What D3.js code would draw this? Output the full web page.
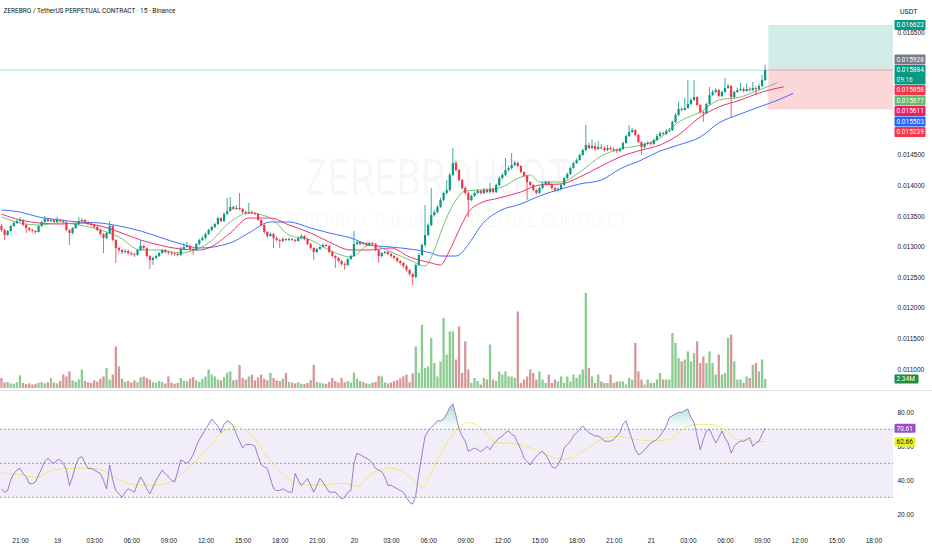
<!DOCTYPE html>
<html>
<head>
<meta charset="utf-8">
<script src="https://cdn.jsdelivr.net/npm/d3@7"></script>
<style>
html, body { margin: 0; padding: 0; background: #fff; }
svg { display: block; font-family: Roboto, "Liberation Sans", sans-serif; }
</style>
</head>
<body>
<svg id="chart" width="932" height="550"></svg>
<script>
// 15 minute bars, prices are in 1e-6 USDT
var title = "ZEREBRO / TetherUS PERPETUAL CONTRACT \u00b7 15 \u00b7 Binance";
var watermark = "ZEREBROUSDT";
var watermarkSub = "ZEREBRO / TetherUS PERPETUAL CONTRACT";
var firstBar = Date.UTC(2024, 10, 18, 19, 30);
var barMs = 15 * 60 * 1000;
var firstOpen = 13337;

var closes = [
  13271,13190,13255,13337,13386,13418,13435,13353,13304,13271,
  13255,13239,13337,13402,13451,13418,13435,13402,13435,13418,
  13402,13271,13222,13304,13369,13418,13435,13402,13369,13353,
  13320,13271,13206,13141,13222,13337,13108,12977,12944,12912,
  12928,12895,12879,12863,12944,13010,12977,12846,12781,12814,
  12846,12895,12944,12912,12895,12890,12879,12863,12961,12993,
  13010,12961,12944,13043,13108,13141,13206,13271,13320,13369,
  13467,13418,13533,13582,13647,13614,13631,13614,13565,13549,
  13565,13549,13533,13435,13353,13239,13173,13206,13141,13108,
  13092,13124,13108,13124,13108,13092,13141,13173,13124,13043,
  12977,12912,12961,12993,13026,13010,12912,12846,12814,12765,
  12716,12699,12797,12846,13043,13075,13043,13059,13026,13059,
  13043,12944,12846,12895,12912,12879,12846,12814,12765,12732,
  12683,12618,12552,12503,12699,12863,13026,13190,13353,13516,
  13565,13647,13761,13876,13925,14170,14366,14252,14088,13958,
  13876,13761,13827,13876,13909,13876,13925,13892,13941,13892,
  14007,14121,14170,14252,14284,14333,14366,14317,14219,14154,
  14056,14007,13925,13876,13958,14023,14056,14023,13958,13925,
  13941,14007,14121,14186,14284,14366,14415,14497,14578,14660,
  14611,14644,14595,14627,14611,14578,14611,14595,14578,14562,
  14595,14693,14807,14873,14905,14824,14709,14627,14677,14693,
  14677,14742,14807,14856,14840,14889,14905,15036,15150,15248,
  15232,15265,15330,15395,15444,15314,15199,15183,15330,15477,
  15526,15559,15461,15526,15592,15624,15444,15526,15559,15575,
  15543,15575,15559,15592,15575,15624,15722,15884
];
var highs = [
  13370,13290,13270,13350,13410,13440,13484,13450,13370,13320,
  13290,13270,13350,13420,13500,13470,13460,13450,13490,13450,
  13440,13410,13290,13320,13380,13484,13460,13450,13420,13390,
  13370,13340,13290,13220,13240,13418,13350,13120,13000,12960,
  12960,12950,12920,12900,12960,13108,13030,12990,12860,12840,
  12870,12910,12960,12960,12930,12920,12910,12900,12993,13060,
  13075,13030,12980,13060,13130,13170,13230,13290,13340,13390,
  13490,13480,13560,13794,13810,13670,13680,13876,13630,13590,
  13712,13590,13570,13550,13450,13370,13250,13230,13220,13160,
  13130,13150,13140,13150,13140,13130,13160,13206,13190,13140,
  13060,12990,12980,13010,13050,13040,13030,12930,12860,12830,
  12780,12740,12810,12870,13255,13100,13090,13080,13075,13080,
  13075,13060,12960,12910,12930,12930,12900,12860,12830,12780,
  12750,12700,12630,12570,12720,12890,13050,13680,13380,13958,
  13600,13680,13800,13900,14088,14200,14611,14400,14270,14110,
  13980,13900,13850,13900,13940,13930,13960,13950,14039,13960,
  14030,14150,14200,14448,14320,14529,14400,14390,14330,14230,
  14170,14070,14020,13940,13980,14050,14080,14070,14040,13970,
  13970,14030,14140,14210,14310,14390,14440,14520,14600,14987,
  14700,14750,14700,14720,14680,14640,14660,14640,14620,14600,
  14620,14720,14830,14987,14940,14920,14840,14720,14700,14720,
  14720,14770,14840,14880,14880,14920,14940,15060,15180,15363,
  15280,15428,15722,15430,15722,15460,15330,15220,15350,15608,
  15560,15590,15580,15550,15755,15660,15640,15550,15600,15680,
  15600,15670,15600,15690,15620,15660,15804,15967
];
var lows = [
  13240,13108,13170,13240,13320,13370,13400,13340,13222,13250,
  13230,13210,13230,13320,13390,13400,13400,13390,13390,13400,
  13380,13250,13026,13200,13290,13350,13400,13390,13350,13330,
  13300,13250,13180,12895,13120,13200,13090,12732,12900,12880,
  12890,12870,12850,12830,12850,12930,12950,12820,12634,12700,
  12790,12830,12880,12890,12870,12860,12850,12840,12850,12940,
  12980,12940,12863,12930,13020,13090,13120,13190,13250,13300,
  13350,13400,13400,13520,13570,13600,13600,13590,13540,13520,
  13530,13530,13510,13420,13330,13210,13140,13160,12977,13080,
  12977,13070,13090,13090,13090,13070,13080,13120,13100,13020,
  12950,12781,12890,12940,12980,12990,12890,12820,12650,12740,
  12690,12618,12680,12780,12830,13020,13020,13030,13000,13010,
  13020,12920,12732,12820,12880,12860,12820,12790,12740,12700,
  12650,12590,12520,12373,12480,12680,12840,13000,13170,13330,
  13490,13540,13630,13740,13850,13900,14150,14230,14060,13930,
  13850,13484,13740,13810,13860,13850,13860,13870,13870,13870,
  13870,13990,14100,14150,14230,14260,14310,14300,14200,14130,
  13761,13980,13900,13850,13860,13940,14000,14000,13930,13890,
  13900,13920,13990,14100,14170,14270,14350,14400,14480,14560,
  14590,14590,14570,14580,14590,14550,14560,14570,14550,14530,
  14540,14580,14680,14790,14850,14800,14690,14497,14600,14660,
  14650,14660,14720,14790,14820,14820,14870,14890,15020,15130,
  15210,15220,15250,15310,15380,15290,15170,15036,15170,15310,
  15460,15510,15440,15440,15510,15580,15118,15420,15510,15540,
  15520,15530,15530,15540,15477,15550,15600,15700
];
// volume, millions
var volumes = [
  2.6,1.4,1.6,1.2,1.1,1.5,3.3,1.3,1.0,1.2,
  0.9,1.1,1.4,1.6,1.2,1.5,2.6,1.4,1.2,1.8,
  3.5,3.0,4.3,2.0,1.6,2.2,4.8,1.8,1.5,1.3,
  2.0,1.7,2.4,3.0,5.2,2.2,3.5,10.8,5.6,2.4,
  1.6,1.8,1.4,2.0,1.5,2.8,3.0,2.6,2.2,1.5,
  1.4,1.8,1.6,1.2,3.0,1.4,1.1,1.3,2.6,1.9,
  1.8,2.4,2.8,2.0,1.6,2.4,3.0,4.8,3.5,3.0,
  2.2,2.0,2.8,4.0,4.3,2.0,2.2,6.0,2.6,2.2,
  3.0,3.5,2.0,2.8,3.5,2.4,2.0,3.9,2.6,2.0,
  1.8,2.4,3.9,1.6,1.4,1.2,1.5,1.1,1.0,1.3,
  2.0,6.0,1.6,1.4,1.2,1.1,1.6,2.6,1.8,1.4,
  2.6,1.5,1.8,1.4,4.0,2.4,1.8,1.6,1.2,1.1,
  1.4,1.6,3.2,3.0,1.5,1.2,1.4,1.8,2.0,2.5,
  3.0,3.5,1.5,3.8,10.8,4.0,16.4,5.2,5.6,13.0,
  6.5,3.0,6.9,18.2,8.7,14.7,14.7,7.4,16.0,3.9,
  12.1,4.8,1.3,2.6,1.8,0.9,2.6,2.2,11.3,2.2,
  1.8,4.3,3.5,4.3,3.0,3.0,2.6,19.9,1.3,2.2,
  3.0,4.8,3.9,2.2,4.3,2.2,1.3,3.5,1.3,2.2,
  1.7,3.0,1.3,3.0,1.7,3.5,2.6,3.5,4.8,24.7,
  5.2,3.0,1.3,3.5,1.7,1.3,1.3,3.5,1.3,1.7,
  1.7,1.7,0.9,2.6,2.2,11.7,4.3,2.2,0.9,2.2,
  1.3,1.3,2.2,3.9,2.2,2.2,2.2,14.3,11.7,7.8,
  6.9,7.4,9.5,6.9,9.1,12.1,6.5,8.2,6.5,9.5,
  6.5,3.5,8.7,3.5,3.9,13.0,13.9,6.9,2.2,2.2,
  1.3,3.0,2.6,6.0,6.5,4.3,7.4,2.34
];
var rsi = [
  35,33,34,40,44,46,47,44,42,38,
  38,39,43,47,51,53,51,50,52,52,
  50,46,37,42,49,53,54,50,47,47,
  46,45,44,40,35,49,40,34,32,30,
  33,35,34,33,38,42,39,35,32,36,
  40,43,46,44,42,40,39,45,52,51,
  50,52,55,60,64,67,70,73,76,74,
  72,68,73,75,74,72,67,63,59,61,
  61,61,60,54,49,48,47,41,35,34,
  34,35,34,33,33,44,40,37,39,41,
  37,33,37,41,39,36,33,33,33,31,
  29,30,33,34,50,56,55,54,53,52,
  50,47,46,45,42,37,37,36,35,34,
  33,30,27,26,31,44,55,66,69,71,
  73,75,75,76,79,83,85,78,70,66,
  63,57,58,59,58,57,58,60,58,61,
  63,65,66,68,69,67,66,62,58,53,
  51,49,52,54,56,57,55,52,48,47,
  49,53,59,61,63,66,68,70,72,70,
  68,67,66,66,65,63,63,63,64,66,
  68,73,75,69,64,58,55,56,58,60,
  62,63,64,66,69,72,77,78,79,80,
  80,81,82,77,74,66,58,64,69,70,
  66,62,65,69,65,62,56,60,62,63,
  63,64,65,60,62,63,67,70.61
];
// RSI-based MA, read at bar indexes
var rsiMaIdx = [0,6,11,17,25,32,38,44,50,55,61,67,72,76,80,86,92,97,104,111,115,120,126,132,136,141,147,151,155,160,165,171,176,182,188,194,199,205,211,216,222,228,234,238,247];
var rsiMaVal = [44.3,43.3,41.9,46.2,47.2,46.2,40.3,37.3,37.3,39.3,48.2,59.1,69,71.6,68,54.2,42.3,37.3,37.3,38.3,36.3,44.3,47.2,42.3,36.3,52.2,69,74,71,62.1,61.7,59.1,55.1,52.2,57.1,64.1,66,64.1,63.1,64.1,72,73,70,64.1,62.66];

// Alligator lines, read at bar indexes (shifted forward past the last bar)
var jawIdx = [0,6,12,19,25,32,38,45,51,58,64,74,80,87,93,100,106,113,119,126,132,139,142,147,152,155,161,168,174,181,187,194,200,207,213,219,226,232,239,245,252,256];
var jawVal = [13598,13565,13484,13435,13402,13386,13337,13255,13157,13043,12977,13059,13222,13402,13402,13304,13222,13141,13026,12993,12961,12895,12846,12846,13108,13337,13582,13696,13827,13941,14023,14088,14268,14415,14562,14660,14791,15020,15167,15281,15412,15503];
var teethIdx = [0,6,12,19,25,32,38,45,51,58,64,67,74,80,87,93,100,106,113,119,126,132,139,142,145,148,151,155,161,168,174,181,187,194,200,207,213,219,226,232,239,245,253];
var teethVal = [13533,13435,13386,13369,13386,13337,13239,13108,13026,12961,12944,12977,13222,13467,13467,13353,13222,13075,12944,12944,12977,12830,12732,12699,12944,13271,13560,13712,13794,13892,14007,14023,14137,14317,14464,14578,14660,14824,15118,15281,15395,15510,15611];
var lipsIdx = [0,6,12,19,25,32,38,45,51,58,64,67,74,80,87,93,100,106,113,119,126,132,137,140,143,147,150,155,161,168,171,174,181,187,194,200,207,213,219,226,232,239,245,251];
var lipsVal = [13484,13386,13353,13386,13353,13271,13157,12944,12944,12895,12977,13059,13402,13549,13467,13190,13108,12944,12830,13026,12912,12781,12683,12944,13353,13761,13909,13925,13958,14137,14170,14056,14056,14219,14480,14595,14660,14775,15036,15199,15395,15444,15559,15677];

// long position tool
var posStartIdx = 248;
var posTarget = 16622, posEntry = 15928, posStop = 15239;
var lastPrice = 15884, countdown = "09:16";

var scaleLabels = [16622, 15928, 15884, 15858, 15677, 15611, 15503, 15239];
var scaleLabelKinds = ["target", "entry", "last", "extra", "lips", "teeth", "jaw", "stop"];
var priceTicks = [11000,11500,12000,12500,13000,13500,14000,14500,15000,15500,16000,16500];
var rsiTicks = [20, 40, 60, 80];
var rsiLevels = [70, 50, 30];
var rsiLast = 70.61, rsiMaLast = 62.66;
var lastVolume = 2.34;

var colors = {
  up: "#089981", down: "#F23645", volUp: "#8ccb90", volDown: "#d4979a",
  jaw: "#2962FF", teeth: "#E91E63", lips: "#66BB6A",
  target: "#089981", entry: "#787B86", last: "#089981", extra: "#F23645", stop: "#F23645",
  rsi: "#7E57C2", rsiMa: "#ECE83F", text: "#131722"
};

var svg = d3.select("#chart");
var paneRight = 893;
var tAt = function(i) { return new Date(firstBar + i * barMs); };

var x = d3.scaleUtc().domain([tAt(0), tAt(282)]).range([1.45, 873.4]);
var y = d3.scaleLinear().domain([11000, 16500]).range([369, 32.4]);
var vy = d3.scaleLinear().domain([0, 25]).range([388, 291.75]);
var ry = d3.scaleLinear().domain([30, 70]).range([497.3, 429.3]);

var bars = closes.map(function(c, i) {
  return { t: tAt(i), o: i ? closes[i - 1] : firstOpen, c: c, h: highs[i], l: lows[i], v: volumes[i], r: rsi[i] };
});

var defs = svg.append("defs");
defs.append("clipPath").attr("id", "pricePane").append("rect").attr("x", 0).attr("y", 0).attr("width", paneRight).attr("height", 390);
defs.append("clipPath").attr("id", "rsiPane").append("rect").attr("x", 0).attr("y", 391).attr("width", paneRight).attr("height", 137);
var gUp = defs.append("linearGradient").attr("id", "obFill").attr("gradientUnits", "userSpaceOnUse")
  .attr("x1", 0).attr("x2", 0).attr("y1", ry(100)).attr("y2", ry(70));
gUp.append("stop").attr("offset", 0).attr("stop-color", "#089981").attr("stop-opacity", 0.7);
gUp.append("stop").attr("offset", 1).attr("stop-color", "#089981").attr("stop-opacity", 0);
var gDn = defs.append("linearGradient").attr("id", "osFill").attr("gradientUnits", "userSpaceOnUse")
  .attr("x1", 0).attr("x2", 0).attr("y1", ry(0)).attr("y2", ry(30));
gDn.append("stop").attr("offset", 0).attr("stop-color", "#F23645").attr("stop-opacity", 0.7);
gDn.append("stop").attr("offset", 1).attr("stop-color", "#F23645").attr("stop-opacity", 0);

// watermark
var wm = svg.append("g").attr("fill", colors.text).attr("fill-opacity", 0.04).attr("text-anchor", "middle");
wm.append("text").attr("x", 437).attr("y", 195).attr("font-size", 50)
  .attr("textLength", 266).attr("lengthAdjust", "spacingAndGlyphs").text(watermark);
wm.append("text").attr("x", 456).attr("y", 227).attr("font-size", 19)
  .attr("textLength", 343).attr("lengthAdjust", "spacingAndGlyphs").text(watermarkSub);

// price pane
var pane = svg.append("g").attr("clip-path", "url(#pricePane)");

var px0 = x(tAt(posStartIdx));
pane.append("rect").attr("x", px0).attr("y", y(posTarget)).attr("width", paneRight - px0)
  .attr("height", y(posEntry) - y(posTarget)).attr("fill", "rgba(8,153,129,0.18)");
pane.append("rect").attr("x", px0).attr("y", y(posEntry)).attr("width", paneRight - px0)
  .attr("height", y(posStop) - y(posEntry)).attr("fill", "rgba(242,54,69,0.2)");

pane.append("line").attr("x1", 0).attr("x2", paneRight).attr("y1", y(lastPrice)).attr("y2", y(lastPrice))
  .attr("stroke", colors.last).attr("stroke-opacity", 0.35).attr("stroke-width", 1);

pane.append("g").selectAll("rect").data(bars).join("rect")
  .attr("x", function(d) { return x(d.t) - 1.15; })
  .attr("width", 2.3)
  .attr("y", function(d) { return vy(d.v); })
  .attr("height", function(d) { return vy(0) - vy(d.v); })
  .attr("fill", function(d) { return d.c >= d.o ? colors.volUp : colors.volDown; });

var maLine = d3.line().curve(d3.curveMonotoneX)
  .x(function(d) { return x(tAt(d[0])); })
  .y(function(d) { return y(d[1]); });
[[jawIdx, jawVal, colors.jaw], [teethIdx, teethVal, colors.teeth], [lipsIdx, lipsVal, colors.lips]].forEach(function(s) {
  pane.append("path").datum(d3.zip(s[0], s[1]))
    .attr("fill", "none").attr("stroke", s[2]).attr("stroke-width", 0.9).attr("d", maLine);
});

var cg = pane.append("g").selectAll("g").data(bars).join("g")
  .attr("fill", function(d) { return d.c >= d.o ? colors.up : colors.down; })
  .attr("stroke", function(d) { return d.c >= d.o ? colors.up : colors.down; });
cg.append("line")
  .attr("x1", function(d) { return x(d.t); }).attr("x2", function(d) { return x(d.t); })
  .attr("y1", function(d) { return y(d.h); }).attr("y2", function(d) { return y(d.l); })
  .attr("stroke-width", 0.8);
cg.append("rect")
  .attr("stroke", "none")
  .attr("x", function(d) { return x(d.t) - 1.1; })
  .attr("width", 2.2)
  .attr("y", function(d) { return y(Math.max(d.o, d.c)); })
  .attr("height", function(d) { return Math.max(0.8, Math.abs(y(d.o) - y(d.c))); });

// pane separator
svg.append("line").attr("x1", 0).attr("x2", 932).attr("y1", 390.5).attr("y2", 390.5)
  .attr("stroke", "#e0e3eb").attr("stroke-width", 1);

// RSI pane
var rp = svg.append("g").attr("clip-path", "url(#rsiPane)");
rp.append("rect").attr("x", 0).attr("width", paneRight).attr("y", ry(70)).attr("height", ry(30) - ry(70))
  .attr("fill", "rgba(126,87,194,0.1)");
rp.selectAll("line.lvl").data(rsiLevels).join("line").attr("class", "lvl")
  .attr("x1", 0).attr("x2", paneRight).attr("y1", ry).attr("y2", ry)
  .attr("stroke", "#787B86").attr("stroke-opacity", 0.75).attr("stroke-dasharray", "2,2");

rp.append("path").datum(bars).attr("fill", "url(#obFill)")
  .attr("d", d3.area().x(function(d) { return x(d.t); }).y0(ry(70))
    .y1(function(d) { return ry(Math.max(70, d.r)); }));
rp.append("path").datum(bars).attr("fill", "url(#osFill)")
  .attr("d", d3.area().x(function(d) { return x(d.t); }).y0(ry(30))
    .y1(function(d) { return ry(Math.min(30, d.r)); }));

rp.append("path").datum(d3.zip(rsiMaIdx, rsiMaVal)).attr("fill", "none")
  .attr("stroke", colors.rsiMa).attr("stroke-opacity", 0.75).attr("stroke-width", 1)
  .attr("d", d3.line().curve(d3.curveMonotoneX)
    .x(function(d) { return x(tAt(d[0])); }).y(function(d) { return ry(d[1]); }));
rp.append("path").datum(bars).attr("fill", "none")
  .attr("stroke", colors.rsi).attr("stroke-opacity", 0.85).attr("stroke-width", 0.9)
  .attr("d", d3.line().x(function(d) { return x(d.t); }).y(function(d) { return ry(d.r); }));

// label stacking on the price scale
var hh = 5, gap = 0.5;
var labs = scaleLabels.map(function(p, i) { return { p: p, kind: scaleLabelKinds[i], cy: y(p) }; });
labs.sort(function(a, b) { return b.p - a.p; });
var ai = labs.findIndex(function(d) { return d.kind === "last"; });
labs[ai].top = labs[ai].cy - hh; labs[ai].bottom = labs[ai].cy + 14.5;
for (var j = ai - 1; j >= 0; j--) {
  var c = Math.min(labs[j].cy, labs[j + 1].top - gap - hh);
  labs[j].cy = c; labs[j].top = c - hh; labs[j].bottom = c + hh;
}
for (j = ai + 1; j < labs.length; j++) {
  var c2 = Math.max(labs[j].cy, labs[j - 1].bottom + gap + hh);
  labs[j].cy = c2; labs[j].top = c2 - hh; labs[j].bottom = c2 + hh;
}

var fmtPrice = function(d) { return (d / 1e6).toFixed(6); };
var axisFont = 6.5;

var visibleTicks = priceTicks.filter(function(t) {
  var ty = y(t);
  return !labs.some(function(l) { return ty >= l.top - 2 && ty <= l.bottom + 2; });
});
var pa = svg.append("g").attr("transform", "translate(897.5,0)")
  .call(d3.axisRight(y).tickValues(visibleTicks).tickSize(0).tickPadding(0).tickFormat(fmtPrice));
pa.select(".domain").remove();
pa.selectAll("text").attr("font-size", axisFont).attr("fill", colors.text).attr("font-family", null);

var ra = svg.append("g").attr("transform", "translate(897.5,0)")
  .call(d3.axisRight(ry).tickValues(rsiTicks).tickSize(0).tickPadding(0).tickFormat(d3.format(".2f")));
ra.select(".domain").remove();
ra.selectAll("text").attr("font-size", axisFont).attr("fill", colors.text).attr("font-family", null);

var timeTicks = d3.utcHour.every(3).range(new Date(Date.UTC(2024, 10, 18, 21)), new Date(Date.UTC(2024, 10, 21, 19)));
var fmtHM = d3.utcFormat("%H:%M");
var ta = svg.append("g").attr("transform", "translate(0,538.5)")
  .call(d3.axisBottom(x).tickValues(timeTicks).tickSize(0).tickPadding(0)
    .tickFormat(function(d) { return d.getUTCHours() === 0 ? String(d.getUTCDate()) : fmtHM(d); }));
ta.select(".domain").remove();
ta.selectAll("text").attr("font-size", axisFont).attr("fill", colors.text).attr("font-family", null);

// coloured scale labels
var lg = svg.append("g").attr("font-size", axisFont).attr("fill", "#fff");
labs.forEach(function(l) {
  var h = l.bottom - l.top;
  lg.append("rect").attr("x", 894.5).attr("y", l.top).attr("width", 31).attr("height", h)
    .attr("rx", 1).attr("fill", colors[l.kind]);
  lg.append("text").attr("x", 896.5).attr("y", l.cy + 2.3).text(fmtPrice(l.p));
  if (l.kind === "last") {
    lg.append("text").attr("x", 896.5).attr("y", l.cy + 11.5).attr("fill-opacity", 0.9).text(countdown);
  }
});

// volume label
lg.append("rect").attr("x", 894.5).attr("y", vy(lastVolume) - 4.5).attr("width", 24).attr("height", 9)
  .attr("rx", 1).attr("fill", "#1e8e3e");
lg.append("text").attr("x", 896.5).attr("y", vy(lastVolume) + 2.3).text(d3.format(".2f")(lastVolume) + "M");

// RSI value labels
lg.append("rect").attr("x", 894.5).attr("y", ry(rsiLast) - 4.6).attr("width", 21).attr("height", 9.2)
  .attr("rx", 1).attr("fill", "#9C4FC4");
lg.append("text").attr("x", 896.5).attr("y", ry(rsiLast) + 2.3).text(rsiLast.toFixed(2));
lg.append("rect").attr("x", 894.5).attr("y", ry(rsiMaLast) - 4.6).attr("width", 21).attr("height", 9.2)
  .attr("rx", 1).attr("fill", "#e8f21c");
lg.append("text").attr("x", 896.5).attr("y", ry(rsiMaLast) + 2.3).attr("fill", colors.text).text(rsiMaLast.toFixed(2));

// header texts
svg.append("text").attr("x", 3.5).attr("y", 13.3).attr("font-size", 8).attr("fill", colors.text)
  .attr("textLength", 172).attr("lengthAdjust", "spacingAndGlyphs").text(title);
svg.append("text").attr("x", 900).attr("y", 14).attr("font-size", 7).attr("fill", colors.text).text("USDT");
</script>
</body>
</html>
